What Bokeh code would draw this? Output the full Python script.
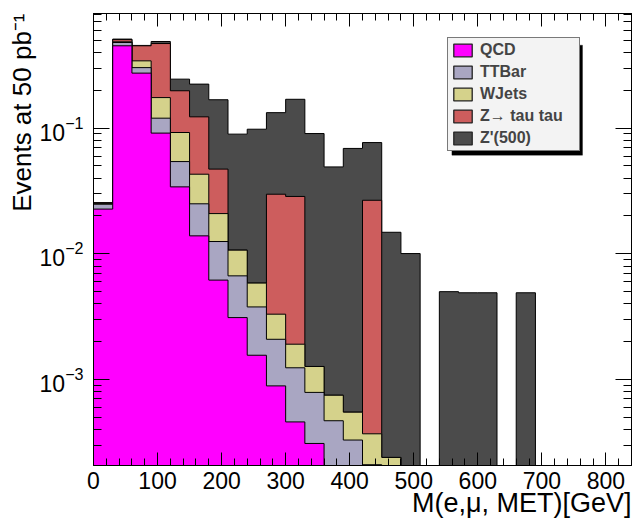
import numpy as np
from bokeh.plotting import figure
from bokeh.models import (Range1d, LinearAxis, LogAxis, SingleIntervalTicker, LogTicker,
                          Legend, LegendItem, Title, BoxAnnotation, CustomJSTickFormatter)
from bokeh.embed import file_html
from bokeh.resources import INLINE

# ---- data (30 GeV bins, 0..840 GeV) ----
bin_edges = [0, 30, 60, 90, 120, 150, 180, 210, 240, 270, 300, 330, 360, 390, 420,
             450, 480, 510, 540, 570, 600, 630, 660, 690, 720, 750, 780, 810, 840]

qcd = [0.0227, 0.452, 0.274, 0.0913, 0.0341, 0.0139, 0.00618, 0.00311, 0.00156, 0.00089,
       0.00046, 0.00031, 0, 0, 0, 0, 0, 0, 0, 0, 0, 0, 0, 0, 0, 0, 0, 0]
ttbar = [0.0021, 0.028, 0.029, 0.0287, 0.0201, 0.0111, 0.00635, 0.00357, 0.00222, 0.0012,
         0.00078, 0.00048, 0.00047, 0.00033, 0.00021, 0.00015, 0.0001, 0, 0, 0, 0, 0, 0, 0, 0, 0, 0, 0]
wjets = [0.0004, 0.006, 0.040, 0.055, 0.0381, 0.018, 0.00837, 0.00402, 0.00207, 0.00122,
         0.00067, 0.00048, 0.00028, 0.00022, 0.00016, 0.00009, 0.00005, 0, 0, 0, 0, 0, 0, 0, 0, 0, 0, 0]
ztautau = [0.0003, 0.020, 0.109, 0.296, 0.106, 0.080, 0.0263, 0, 0, 0.0265,
           0.0267, 0, 0, 0, 0.0263, 0, 0, 0, 0, 0, 0, 0, 0, 0, 0, 0, 0, 0]
zprime = [0, 0.005, 0.003, 0.018, 0.047, 0.101, 0.121, 0.0789, 0.0922, 0.103,
          0.141, 0.0893, 0.0484, 0.0684, 0.0501, 0.0146, 0.0099, 0, 0.0050, 0.0049,
          0.0049, 0, 0.0049, 0, 0, 0, 0, 0]

names = ["QCD", "TTBar", "WJets", "Z\u2192 tau tau", "Z'(500)"]
series = [qcd, ttbar, wjets, ztautau, zprime]
colors = ["#ff00ff", "#a9a6c2", "#d5d28b", "#cd5d5d", "#4b4b4b"]

FONT = "Liberation Sans"
FLOOR = 1e-7

p = figure(width=633, height=518, y_axis_type="log",
           x_range=Range1d(0, 840), y_range=Range1d(10 ** -3.684, 10 ** -0.088),
           output_backend="svg", toolbar_location=None,
           min_border_left=93, min_border_right=2, min_border_top=13, min_border_bottom=53)
p.background_fill_color = "white"
p.border_fill_color = "white"
p.outline_line_color = "black"
p.outline_line_width = 1
p.grid.visible = False

# stacked histogram: draw cumulative layers from the top down
cum = np.cumsum(np.array(series, dtype=float), axis=0)
for k in range(len(series) - 1, -1, -1):
    top = np.where(cum[k] > 0, cum[k], FLOOR)
    y = np.append(top, top[-1])
    p.varea_step(x=bin_edges, y1=[FLOOR] * len(bin_edges), y2=y, step_mode="after",
                 fill_color=colors[k])
    p.step(x=bin_edges, y=y, mode="after", line_color="black", line_width=1)

# legend swatches (zero-size, off-scale quads used only for the legend glyphs)
items = []
for name, c in zip(names, colors):
    r = p.quad(left=[bin_edges[0]], right=[bin_edges[0]], top=[FLOOR], bottom=[FLOOR],
               fill_color=c, line_color="#222222", line_width=1.3)
    items.append(LegendItem(label=name, renderers=[r]))

# axes styling
xa = p.xaxis[0]
xa.ticker = SingleIntervalTicker(interval=100, num_minor_ticks=5)
ya = p.yaxis[0]
ya.ticker = LogTicker(num_minor_ticks=10)
for ax in (xa, ya):
    ax.major_tick_out = 0
    ax.minor_tick_out = 0
    ax.axis_line_color = "black"
    ax.major_tick_line_color = "black"
    ax.minor_tick_line_color = "black"
    ax.major_label_text_font = FONT
    ax.major_label_text_font_size = "23px"
    ax.major_label_text_color = "black"
xa.major_tick_in = 13
xa.minor_tick_in = 7
xa.major_label_standoff = 6
ya.major_tick_in = 16
ya.minor_tick_in = 8
ya.major_label_standoff = 10

blank = CustomJSTickFormatter(code="return ''")
xt = LinearAxis(ticker=SingleIntervalTicker(interval=100, num_minor_ticks=5), formatter=blank,
                major_tick_in=13, minor_tick_in=7, major_tick_out=0, minor_tick_out=0,
                major_label_standoff=0, axis_line_color="black")
p.add_layout(xt, "above")
yr = LogAxis(ticker=LogTicker(num_minor_ticks=10), formatter=blank,
             major_tick_in=16, minor_tick_in=8, major_tick_out=0, minor_tick_out=0,
             major_label_standoff=0, axis_line_color="black")
p.add_layout(yr, "right")

# axis titles
p.add_layout(Title(text="M(e,\u03bc, MET)[GeV]", align="right", standoff=-11,
                   text_font=FONT, text_font_size="27px", text_font_style="normal",
                   text_color="black"), "below")
p.add_layout(Title(text="Events at 50 pb\u207b\u00b9", align="right", standoff=0,
                   text_font=FONT, text_font_size="26px", text_font_style="normal",
                   text_color="black"), "left")

# legend with shadow
p.add_layout(BoxAnnotation(left=358.4, right=489, bottom=310.3, top=420.3,
                           left_units="screen", right_units="screen",
                           top_units="screen", bottom_units="screen",
                           fill_color="black", fill_alpha=1, line_color="black"))
legend = Legend(items=items, location=(354, 314), orientation="vertical",
                glyph_width=23, glyph_height=16, label_standoff=6, spacing=4, padding=3, margin=0,
                label_height=16, label_width=96,
                label_text_font=FONT, label_text_font_style="bold", label_text_font_size="16px",
                border_line_color="black", border_line_width=1,
                background_fill_color="#f3f3f3", background_fill_alpha=1)
p.add_layout(legend)

open("out.html", "w").write(file_html(p, INLINE))
